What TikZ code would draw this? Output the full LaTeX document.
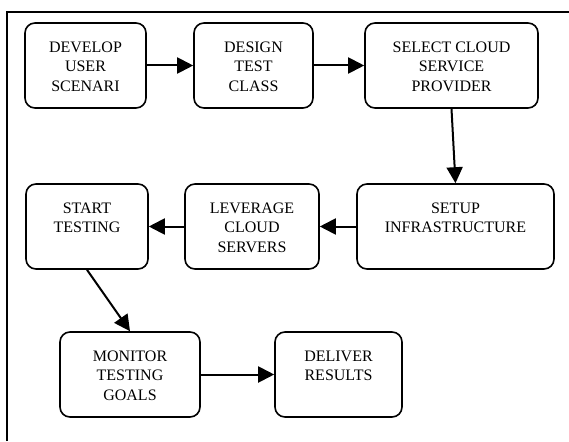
\documentclass[tikz,border=0pt]{standalone}
\usepackage{fontspec}
\setmainfont{Liberation Serif}
\usetikzlibrary{arrows.meta}

% text sits at the top of each box, not in its middle
\newcommand{\stagetext}[2]{\parbox[c][85pt][t]{#1}{\centering\vspace*{19pt}#2}}

\begin{document}
\begin{tikzpicture}[x=1pt,y=-1pt,
    stage/.style={draw, line width=1.6pt, rounded corners=10pt, inner sep=0pt, minimum height=85pt},
    flow/.style={line width=2pt, -{Triangle[length=16pt,width=16pt]}}]
    \fontsize{16}{19.3}\selectfont
    \useasboundingbox (0,0) rectangle (569,441);
    % frame
    \draw [line width=2pt] (7,441) -- (7,12) -- (569,12);
    % first row
    \node [stage, minimum width=121pt] (scen) at (85.5,65.5) {\stagetext{117pt}{DEVELOP\\USER\\SCENARI}};
    \node [stage, minimum width=119pt] (design) at (253.5,65.5) {\stagetext{115pt}{DESIGN\\TEST\\CLASS}};
    \node [stage, minimum width=173pt] (select) at (451.5,65.5) {\stagetext{169pt}{SELECT CLOUD\\SERVICE\\PROVIDER}};
    % second row
    \node [stage, minimum width=197pt] (setup) at (455.5,226.5) {\stagetext{193pt}{SETUP\\INFRASTRUCTURE}};
    \node [stage, minimum width=134pt] (lever) at (252,226.5) {\stagetext{130pt}{LEVERAGE\\CLOUD\\SERVERS}};
    \node [stage, minimum width=122pt] (start) at (87,226.5) {\stagetext{118pt}{START\\TESTING}};
    % third row
    \node [stage, minimum width=140pt] (monitor) at (130,374.5) {\stagetext{136pt}{MONITOR\\TESTING\\GOALS}};
    \node [stage, minimum width=127pt] (deliver) at (338.5,374.5) {\stagetext{123pt}{DELIVER\\RESULTS}};
    % connectors
    \draw [flow] (scen.east) -- (design.west);
    \draw [flow] (design.east) -- (select.west);
    \draw [flow] (select.south) -- (setup.north);
    \draw [flow] (setup.west) -- (lever.east);
    \draw [flow] (lever.west) -- (start.east);
    \draw [flow] (start.south) -- (monitor.north);
    \draw [flow] (monitor.east) -- (deliver.west);
\end{tikzpicture}
\end{document}
